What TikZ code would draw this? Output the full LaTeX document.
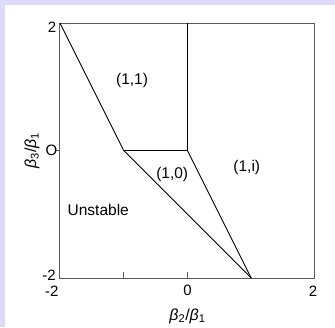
\documentclass[tikz,border=0pt]{standalone}
\usepackage{fontspec}
\setmainfont{Liberation Sans}
\usetikzlibrary{positioning}

\definecolor{lavender}{RGB}{220,220,250}
\definecolor{framegray}{RGB}{90,90,90}

\tikzset{
  region/.style={font=\fontsize{15.5}{17}\selectfont},
  ticklbl/.style={font=\fontsize{15}{17}\selectfont},
  axislbl/.style={font=\fontsize{16}{18}\selectfont},
  frame/.style={draw=framegray, line width=1pt},
  edge/.style={draw=black, line width=0.9pt}
}

\begin{document}
\begin{tikzpicture}[x=63.75pt,y=63.75pt]
        % page and background
        \useasboundingbox (-2.941,-2.769) rectangle (2.314,2.361);
        \fill[lavender] (-2.941,-2.769) rectangle (2.314,2.361);
        \fill[white] (-2.863,-2.769) rectangle (2.314,2.283);

        % corners of the box and the phase boundaries
        \coordinate (bl) at (-2,-2);
        \coordinate (tr) at (2,2);
        \coordinate (tl) at (-2,2);
        \coordinate (a) at (-1,0);
        \coordinate (o) at (0,0);
        \coordinate (t) at (0,2);
        \coordinate (b) at (1,-2);

        \draw[frame] (bl) rectangle (tr);

        % ticks
        \draw[frame] (-1,-2) -- (-1,-1.91);
        \draw[frame] (0,-2) -- (0,-1.91);
        \draw[frame] (-2,0) -- (-2.07,0);

        \draw[edge] (tl) -- (a);
        \draw[edge] (a) -- (b);
        \draw[edge] (a) -- (o);
        \draw[edge] (o) -- (b);
        \draw[edge] (o) -- (t);

        % tick labels
        \node (y2)[ticklbl] at (-2.125,1.94) {2};
        \node (y0)[ticklbl] at (-2.135,0) {O};
        \node (ym2)[ticklbl] at (-2.17,-1.95) {-2};
        \node (xm2)[ticklbl] at (-2.13,-2.2) {-2};
        \node (x0)[ticklbl] at (0,-2.2) {0};
        \node (x2)[ticklbl] at (1.97,-2.2) {2};

        % axis labels
        \node (xlab)[axislbl] at (0,-2.6) {\textit{β}\textsubscript{2}/\textit{β}\textsubscript{1}};
        \node (ylab)[axislbl, rotate=90] at (-2.44,0) {\textit{β}\textsubscript{3}/\textit{β}\textsubscript{1}};

        % regions
        \node (r11)[region] at (-0.87,1.1) {(1,1)};
        \node (r10)[region] at (-0.24,-0.38) {(1,0)};
        \node (r1i)[region] at (0.93,-0.26) {(1,i)};
        \node (unst)[region] at (-1.4,-0.93) {Unstable};

    \end{tikzpicture}
\end{document}
